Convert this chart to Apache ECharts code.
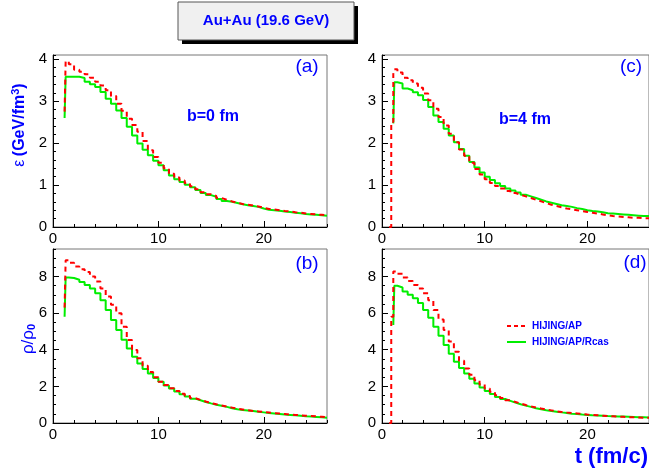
<!DOCTYPE html>
<html>
<head>
<meta charset="utf-8">
<script src="https://cdn.jsdelivr.net/npm/echarts@6/dist/echarts.min.js"></script>
<style>
  html, body { margin: 0; padding: 0; background: #fff; }
  #main { width: 649px; height: 474px; }
</style>
</head>
<body>
<div id="main"></div>
<script>
// bin left edges (fm/c), last entry closes the final bin
var tEdges = [0.7, 0.9, 1.1, 1.2, 1.5, 2, 2.5, 3, 3.5, 4, 4.5, 5, 5.5, 6, 6.5, 7, 7.5, 8, 8.5, 9, 9.5,
  10, 10.5, 11, 11.5, 12, 12.5, 13, 13.5, 14, 14.5, 15, 15.5, 16, 16.5, 17, 17.5, 18, 18.5, 19, 19.5,
  20, 20.5, 21, 21.5, 22, 22.5, 23, 23.5, 24, 24.5, 25, 25.5, 26];

// (a) energy density, b=0 fm
var epsB0Ap = [null, null, 2.75, 3.95, 3.88, 3.75, 3.70, 3.64, 3.56, 3.46, 3.37, 3.26, 3.12, 2.94, 2.77, 2.58, 2.43, 2.27, 2.05, 1.83, 1.67,
  1.53, 1.40, 1.27, 1.18, 1.11, 1.04, 0.97, 0.90, 0.83, 0.78, 0.74, 0.69, 0.65, 0.61, 0.58, 0.55, 0.53, 0.51, 0.49, 0.46,
  0.43, 0.42, 0.40, 0.38, 0.37, 0.35, 0.34, 0.32, 0.31, 0.30, 0.29, 0.28];
var epsB0Rcas = [null, null, 2.60, 3.58, 3.58, 3.58, 3.55, 3.46, 3.40, 3.34, 3.22, 3.06, 2.94, 2.78, 2.60, 2.39, 2.18, 1.99, 1.84, 1.71, 1.58,
  1.47, 1.35, 1.23, 1.14, 1.07, 1.01, 0.95, 0.88, 0.81, 0.76, 0.72, 0.67, 0.62, 0.60, 0.57, 0.54, 0.52, 0.50, 0.48, 0.44,
  0.41, 0.40, 0.39, 0.37, 0.36, 0.34, 0.33, 0.31, 0.30, 0.29, 0.28, 0.27];

// (c) energy density, b=4 fm
var epsB4Ap = [0, 2.50, 3.65, 3.76, 3.68, 3.56, 3.50, 3.42, 3.32, 3.18, 3.02, 2.82, 2.62, 2.42, 2.22, 2.02, 1.85, 1.70, 1.53, 1.38, 1.25,
  1.14, 1.05, 0.98, 0.92, 0.86, 0.81, 0.77, 0.73, 0.69, 0.65, 0.61, 0.57, 0.53, 0.50, 0.47, 0.44, 0.42, 0.40, 0.38, 0.36,
  0.34, 0.32, 0.30, 0.28, 0.26, 0.25, 0.24, 0.23, 0.22, 0.22, 0.21, 0.21];
var epsB4Rcas = [null, null, 2.47, 3.45, 3.42, 3.30, 3.26, 3.21, 3.14, 3.03, 2.86, 2.66, 2.50, 2.34, 2.18, 2.02, 1.86, 1.70, 1.55, 1.42, 1.30,
  1.20, 1.12, 1.04, 0.98, 0.92, 0.87, 0.82, 0.77, 0.73, 0.69, 0.65, 0.61, 0.58, 0.55, 0.52, 0.50, 0.48, 0.45, 0.43, 0.40,
  0.38, 0.37, 0.35, 0.33, 0.32, 0.31, 0.30, 0.29, 0.28, 0.27, 0.26, 0.26];

// (b) baryon density, b=0 fm
var rhoB0Ap = [null, null, 6.30, 8.88, 8.75, 8.55, 8.40, 8.24, 8.00, 7.73, 7.35, 6.90, 6.45, 5.99, 5.25, 4.53, 3.98, 3.53, 3.12, 2.79, 2.50,
  2.25, 2.07, 1.90, 1.75, 1.60, 1.48, 1.36, 1.26, 1.17, 1.09, 1.02, 0.96, 0.90, 0.84, 0.78, 0.74, 0.70, 0.66, 0.63, 0.60,
  0.57, 0.54, 0.52, 0.49, 0.46, 0.44, 0.42, 0.40, 0.38, 0.36, 0.34, 0.32];
var rhoB0Rcas = [null, null, 5.80, 7.95, 7.92, 7.82, 7.70, 7.54, 7.35, 7.09, 6.70, 6.17, 5.62, 5.08, 4.55, 4.07, 3.62, 3.25, 2.95, 2.70, 2.46,
  2.25, 2.05, 1.88, 1.72, 1.57, 1.45, 1.33, 1.24, 1.15, 1.07, 1.00, 0.94, 0.88, 0.81, 0.75, 0.71, 0.68, 0.65, 0.61, 0.58,
  0.55, 0.52, 0.49, 0.46, 0.44, 0.42, 0.40, 0.37, 0.35, 0.33, 0.31, 0.29];

// (d) baryon density, b=4 fm
var rhoB4Ap = [0, 5.80, 8.27, 8.27, 8.15, 7.95, 7.75, 7.54, 7.35, 7.09, 6.70, 6.17, 5.65, 5.08, 4.45, 3.89, 3.40, 2.98, 2.63, 2.34, 2.10,
  1.88, 1.70, 1.52, 1.37, 1.24, 1.15, 1.06, 0.98, 0.91, 0.85, 0.79, 0.74, 0.69, 0.64, 0.60, 0.57, 0.55, 0.52, 0.49, 0.46,
  0.44, 0.42, 0.40, 0.38, 0.37, 0.35, 0.34, 0.32, 0.31, 0.30, 0.29, 0.28];
var rhoB4Rcas = [null, null, 5.35, 7.49, 7.40, 7.18, 7.00, 6.81, 6.55, 6.17, 5.75, 5.26, 4.76, 4.26, 3.78, 3.34, 3.00, 2.70, 2.42, 2.16, 1.94,
  1.75, 1.58, 1.42, 1.31, 1.21, 1.11, 1.02, 0.95, 0.88, 0.81, 0.75, 0.70, 0.66, 0.62, 0.58, 0.55, 0.51, 0.49, 0.46, 0.44,
  0.42, 0.41, 0.40, 0.38, 0.37, 0.36, 0.35, 0.34, 0.33, 0.32, 0.31, 0.30];

var seriesNames = ["HIJING/AP", "HIJING/AP/Rcas"];
var panelTags = ["(a)", "(c)", "(b)", "(d)"];
var xTickLabels = [0, 10, 20];

var chart = echarts.init(document.getElementById("main"));

// turn bin contents into step points (left edge of each bin + closing edge)
function hist(vals) {
  var pts = vals.map(function (v, i) {
    return [tEdges[i], v];
  });
  pts.push([tEdges[vals.length], vals[vals.length - 1]]);
  return pts;
}

var red = "#ff0000";
var green = "#00ee00";
var blue = "#0000ff";
var font = "Liberation Sans, Arial, sans-serif";

var panels = [
  { left: 53, top: 55, height: 172, yMax: 4.1, yMinor: 0.2, ap: epsB0Ap, rcas: epsB0Rcas },
  { left: 382, top: 55, height: 172, yMax: 4.1, yMinor: 0.2, ap: epsB4Ap, rcas: epsB4Rcas },
  { left: 53, top: 249, height: 174, yMax: 9.5, yMinor: 0.5, ap: rhoB0Ap, rcas: rhoB0Rcas },
  { left: 382, top: 249, height: 174, yMax: 9.5, yMinor: 0.5, ap: rhoB4Ap, rcas: rhoB4Rcas },
];

var grids = [], xAxes = [], yAxes = [], series = [];

panels.forEach(function (p, i) {
  grids.push({
    left: p.left, top: p.top, width: 274, height: p.height,
    show: true, borderColor: "#777", borderWidth: 1,
  });
  // major x axis
  xAxes.push({
    type: "value", gridIndex: i, min: 0, max: 26, interval: 10,
    axisLine: { lineStyle: { color: "#000" } },
    axisTick: { inside: true, length: 6, lineStyle: { color: "#000" } },
    axisLabel: {
      color: "#000", fontSize: 15, fontFamily: font, margin: 4, showMaxLabel: false,
      formatter: function (v) { return xTickLabels.indexOf(v) >= 0 ? String(v) : ""; },
    },
    splitLine: { show: false },
  });
  // minor x ticks
  xAxes.push({
    type: "value", gridIndex: i, min: 0, max: 26, interval: 2, position: "bottom",
    axisLine: { show: false },
    axisTick: { inside: true, length: 3, lineStyle: { color: "#000" } },
    axisLabel: { show: false }, splitLine: { show: false },
  });
  yAxes.push({
    type: "value", gridIndex: i, min: 0, max: p.yMax, interval: p.yMax > 5 ? 2 : 1,
    axisLine: { lineStyle: { color: "#000" } },
    axisTick: { inside: true, length: 6, lineStyle: { color: "#000" } },
    axisLabel: { color: "#000", fontSize: 15, fontFamily: font, margin: 6, showMaxLabel: false },
    splitLine: { show: false },
  });
  yAxes.push({
    type: "value", gridIndex: i, min: 0, max: p.yMax, interval: p.yMinor, position: "left",
    axisLine: { show: false },
    axisTick: { inside: true, length: 3, lineStyle: { color: "#000" } },
    axisLabel: { show: false }, splitLine: { show: false },
  });

  series.push({
    name: seriesNames[0], type: "line", step: "end", showSymbol: false, symbol: "none",
    xAxisIndex: 2 * i, yAxisIndex: 2 * i, z: 3,
    lineStyle: { color: red, width: 2, type: [5, 4] },
    itemStyle: { color: red },
    data: hist(p.ap),
  });
  series.push({
    name: seriesNames[1], type: "line", step: "end", showSymbol: false, symbol: "none",
    xAxisIndex: 2 * i, yAxisIndex: 2 * i, z: 2,
    lineStyle: { color: green, width: 2 },
    itemStyle: { color: green },
    data: hist(p.rcas),
  });
});

chart.setOption({
  animation: false,
  backgroundColor: "#fff",
  grid: grids,
  xAxis: xAxes,
  yAxis: yAxes,
  series: series,
  graphic: [
    // title box with drop shadow
    { type: "rect", z: 10, shape: { x: 182, y: 6, width: 176, height: 38 }, style: { fill: "#000" } },
    { type: "rect", z: 11, shape: { x: 178, y: 2, width: 176, height: 38 }, style: { fill: "#f0f0f0", stroke: "#555", lineWidth: 1 } },
    { type: "text", x: 266, y: 21, z: 12, style: { text: "Au+Au (19.6 GeV)", fill: blue, font: "bold 15px " + font, textAlign: "center", textVerticalAlign: "middle" } },
    // panel tags
    { type: "text", x: 307, y: 67, style: { text: panelTags[0], fill: blue, font: "19px " + font, textAlign: "center", textVerticalAlign: "middle" } },
    { type: "text", x: 631, y: 67, style: { text: panelTags[1], fill: blue, font: "19px " + font, textAlign: "center", textVerticalAlign: "middle" } },
    { type: "text", x: 307, y: 264, style: { text: panelTags[2], fill: blue, font: "19px " + font, textAlign: "center", textVerticalAlign: "middle" } },
    { type: "text", x: 635, y: 263, style: { text: panelTags[3], fill: blue, font: "19px " + font, textAlign: "center", textVerticalAlign: "middle" } },
    // impact parameters
    { type: "text", x: 213, y: 117, style: { text: "b=0 fm", fill: blue, font: "bold 16px " + font, textAlign: "center", textVerticalAlign: "middle" } },
    { type: "text", x: 525, y: 120, style: { text: "b=4 fm", fill: blue, font: "bold 16px " + font, textAlign: "center", textVerticalAlign: "middle" } },
    // legend
    { type: "line", shape: { x1: 507, y1: 326, x2: 526, y2: 326 }, style: { stroke: red, lineWidth: 2, lineDash: [4, 3] } },
    { type: "line", shape: { x1: 507, y1: 342, x2: 526, y2: 342 }, style: { stroke: green, lineWidth: 2 } },
    { type: "text", x: 532, y: 326, style: { text: seriesNames[0], fill: blue, font: "bold 10px " + font, textVerticalAlign: "middle" } },
    { type: "text", x: 532, y: 342, style: { text: seriesNames[1], fill: blue, font: "bold 10px " + font, textVerticalAlign: "middle" } },
    // axis titles
    {
      type: "text", x: 20, y: 125, rotation: Math.PI / 2,
      style: {
        text: "{g|ε} {b|(GeV/fm}{s|3}{b|)}", textAlign: "center", textVerticalAlign: "middle",
        rich: {
          g: { fill: blue, fontSize: 16, fontFamily: font },
          b: { fill: blue, fontSize: 16, fontWeight: "bold", fontFamily: font },
          s: { fill: blue, fontSize: 11, fontWeight: "bold", fontFamily: font, padding: [0, 0, 9, 0] },
        },
      },
    },
    {
      type: "text", x: 28, y: 339, rotation: Math.PI / 2,
      style: {
        text: "{g|ρ/ρ}{s|0}", textAlign: "center", textVerticalAlign: "middle",
        rich: {
          g: { fill: blue, fontSize: 17, fontFamily: font },
          s: { fill: blue, fontSize: 11, fontWeight: "bold", fontFamily: font, padding: [8, 0, 0, 0] },
        },
      },
    },
    { type: "text", x: 648, y: 457, style: { text: "t (fm/c)", fill: blue, font: "bold 22px " + font, textAlign: "right", textVerticalAlign: "middle" } },
  ],
});
</script>
</body>
</html>
